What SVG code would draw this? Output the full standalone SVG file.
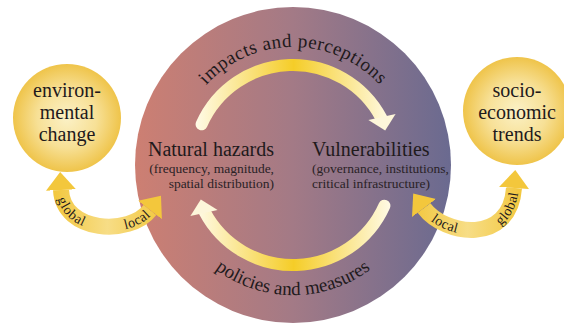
<svg xmlns="http://www.w3.org/2000/svg" width="564" height="324" viewBox="0 0 564 324">
<style>
.serif{font-family:"Liberation Serif","Times New Roman",serif;fill:#1f1a1c}
.big{font-size:20px}
.sub{font-size:13.5px;fill:#2a2226}
.sun{font-size:20px;text-anchor:middle}
.arc{font-size:19px}
.side{font-size:14px}
.band{fill:none;stroke:url(#gLoop);stroke-width:12;stroke-linecap:round}
.sideband{fill:none;stroke-width:16;marker-start:url(#headSide);marker-end:url(#headSide)}
.head{fill:#fdf6da}
</style>
<defs>
<linearGradient id="gMain" x1="135" y1="0" x2="451" y2="0" gradientUnits="userSpaceOnUse">
<stop offset="0" stop-color="#cd7f72"/>
<stop offset="0.5" stop-color="#a37a86"/>
<stop offset="1" stop-color="#6a6a90"/>
</linearGradient>
<radialGradient id="gSun" cx="0.5" cy="0.5" r="0.5">
<stop offset="0" stop-color="#fbf1c6"/>
<stop offset="0.55" stop-color="#f7e096"/>
<stop offset="1" stop-color="#efc44a"/>
</radialGradient>
<linearGradient id="gLoop" x1="195" y1="0" x2="392" y2="0" gradientUnits="userSpaceOnUse">
<stop offset="0" stop-color="#fffbe8"/>
<stop offset="0.5" stop-color="#f5cd28"/>
<stop offset="1" stop-color="#fffbe8"/>
</linearGradient>
<linearGradient id="gSideL" x1="50" y1="0" x2="165" y2="0" gradientUnits="userSpaceOnUse">
<stop offset="0" stop-color="#f2c63a"/>
<stop offset="0.5" stop-color="#f7dd86"/>
<stop offset="1" stop-color="#f2c63a"/>
</linearGradient>
<linearGradient id="gSideR" x1="410" y1="0" x2="525" y2="0" gradientUnits="userSpaceOnUse">
<stop offset="0" stop-color="#f2c63a"/>
<stop offset="0.5" stop-color="#f7dd86"/>
<stop offset="1" stop-color="#f2c63a"/>
</linearGradient>
<marker id="headSide" markerUnits="userSpaceOnUse" markerWidth="18" markerHeight="30" viewBox="0 0 18 30" refX="0" refY="15" orient="auto-start-reverse">
<path d="M0,0 L18,15 L0,30 Z" fill="#f3c73c"/>
</marker>
<path id="pTop" d="M 179 134.5 A 118 118 0 0 1 407 134.5"/>
<path id="pBot" d="M 167.4 198.6 A 130 130 0 0 0 418.6 198.6"/>
<path id="pSideL" d="M 61 190 C 63 233, 130 236, 150 210"/>
<path id="pSideR" d="M 424 208 C 445 236, 510 245, 514 188"/>
</defs>

<g id="main-circle">
<circle cx="293" cy="165" r="158" fill="url(#gMain)"/>
</g>

<g id="env-change">
<circle cx="67" cy="118" r="54" fill="url(#gSun)"/>
<text class="serif sun" x="67" y="97">environ-</text>
<text class="serif sun" x="67" y="119">mental</text>
<text class="serif sun" x="67" y="141">change</text>
</g>

<g id="socio-economic">
<circle cx="517" cy="111" r="54" fill="url(#gSun)"/>
<text class="serif sun" x="517" y="97">socio-</text>
<text class="serif sun" x="517" y="119">economic</text>
<text class="serif sun" x="517" y="141">trends</text>
</g>

<g id="natural-hazards">
<text class="serif big" x="274" y="156" text-anchor="end">Natural hazards</text>
<text class="serif sub" x="274" y="173" text-anchor="end">(frequency, magnitude,</text>
<text class="serif sub" x="274" y="188" text-anchor="end">spatial distribution)</text>
</g>

<g id="vulnerabilities">
<text class="serif big" x="312" y="156">Vulnerabilities</text>
<text class="serif sub" x="312" y="173">(governance, institutions,</text>
<text class="serif sub" x="312" y="188">critical infrastructure)</text>
</g>

<g id="connectors">
<g id="impacts-arrow">
<path class="band" d="M 201.6 124.3 A 100 100 0 0 1 381.3 118.1"/>
<polygon class="head" points="368.4,120.1 395.6,113.9 385.2,130.6"/>
<text class="serif arc" letter-spacing="0.5"><textPath href="#pTop" startOffset="50%" text-anchor="middle">impacts and perceptions</textPath></text>
</g>
<g id="policies-arrow">
<path class="band" d="M 384.4 205.7 A 100 100 0 0 1 204.7 211.9"/>
<polygon class="head" points="217.6,209.9 190.4,216.1 200.8,199.4"/>
<text class="serif arc"><textPath href="#pBot" startOffset="50%" text-anchor="middle">policies and measures</textPath></text>
</g>
<g id="env-link">
<path class="sideband" d="M 61 190 C 63 233, 130 236, 150 210" stroke="url(#gSideL)"/>
<text class="serif side" dy="4.5"><textPath href="#pSideL" startOffset="22%" text-anchor="middle">global</textPath></text>
<text class="serif side" dy="4.5"><textPath href="#pSideL" startOffset="85%" text-anchor="middle">local</textPath></text>
</g>
<g id="socio-link">
<path class="sideband" d="M 424 208 C 445 236, 510 245, 514 188" stroke="url(#gSideR)"/>
<text class="serif side" dy="4.5"><textPath href="#pSideR" startOffset="22%" text-anchor="middle">local</textPath></text>
<text class="serif side" dy="4.5"><textPath href="#pSideR" startOffset="82%" text-anchor="middle">global</textPath></text>
</g>
</g>
</svg>
